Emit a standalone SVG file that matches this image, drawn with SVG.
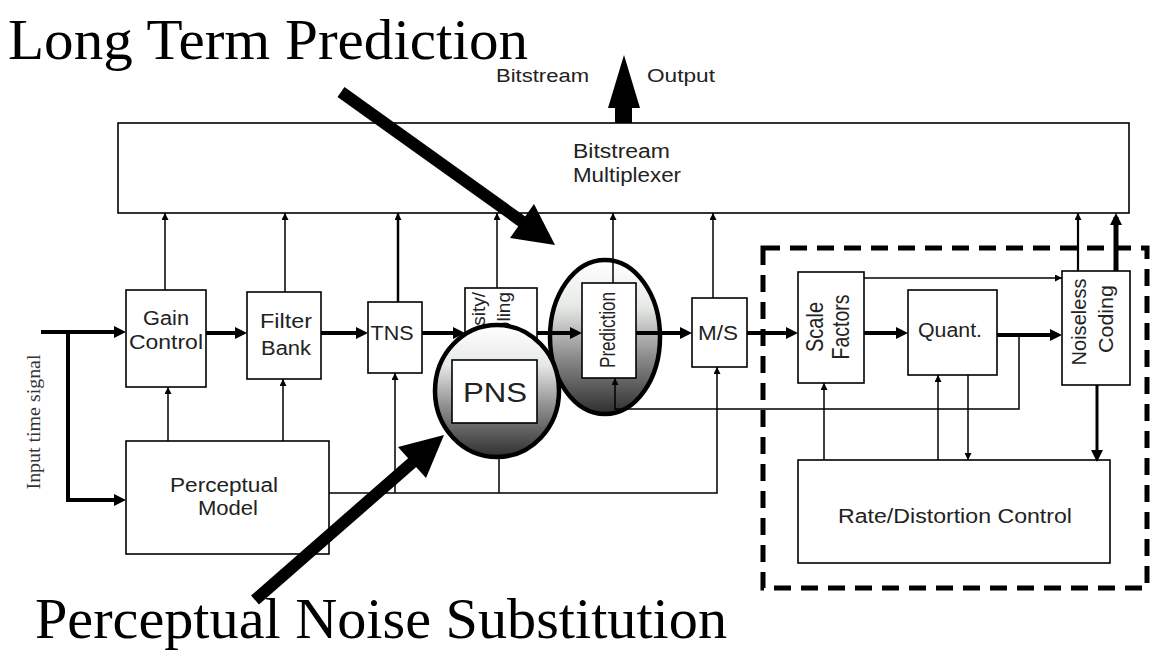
<svg xmlns="http://www.w3.org/2000/svg" width="1151" height="651" viewBox="0 0 1151 651">
<style>
.box{fill:#fff;stroke:#000;stroke-width:1.6}
.lbl{font-family:"Liberation Sans",Arial,sans-serif;font-size:20px;fill:#222}
.thin{stroke:#000;stroke-width:1.5;fill:none}
.thick{stroke:#000;stroke-width:4;fill:none}
.title{font-family:"Liberation Serif","Times New Roman",serif;font-size:58px;fill:#000}
.ell{stroke:#000;stroke-width:4.5;fill:url(#shade)}
.big{fill:#000}
</style>
<defs>
<marker id="ah" viewBox="0 0 7 7" refX="7" refY="3.5" markerUnits="userSpaceOnUse" markerWidth="7" markerHeight="7" orient="auto"><path d="M0,0 L7,3.5 L0,7 z" fill="#000"/></marker>
<marker id="ahb" viewBox="0 0 12 12" refX="8" refY="6" markerUnits="userSpaceOnUse" markerWidth="12" markerHeight="12" orient="auto"><path d="M0,0 L12,6 L0,12 z" fill="#000"/></marker>
<linearGradient id="shade" x1="0" y1="0" x2="0" y2="1">
<stop offset="0" stop-color="#ffffff"/>
<stop offset="0.3" stop-color="#e6eae6"/>
<stop offset="0.62" stop-color="#8e8e8e"/>
<stop offset="1" stop-color="#2e2e2e"/>
</linearGradient>
<clipPath id="intClip"><rect x="465" y="288" width="72" height="90"/></clipPath>
</defs>
<rect width="1151" height="651" fill="#fff"/>

<g id="titles">
<text class="title" x="8" y="59" textLength="520" lengthAdjust="spacingAndGlyphs">Long Term Prediction</text>
<text class="title" x="35" y="638" textLength="692" lengthAdjust="spacingAndGlyphs">Perceptual Noise Substitution</text>
</g>

<g id="output-label">
<text class="lbl" style="font-size:18px" x="496" y="82" textLength="93" lengthAdjust="spacingAndGlyphs">Bitstream</text>
<text class="lbl" style="font-size:18px" x="647" y="82" textLength="68" lengthAdjust="spacingAndGlyphs">Output</text>
<path class="big" d="M624,55 L640,108 L632,108 L632,123 L615,123 L615,108 L608,108 z"/>
</g>

<g id="rd-region">
<rect x="763" y="248" width="384" height="340" fill="none" stroke="#000" stroke-width="5" stroke-dasharray="17 10"/>
</g>

<g id="multiplexer">
<rect class="box" x="118" y="123" width="1011" height="90"/>
<text class="lbl" x="573" y="158" textLength="97" lengthAdjust="spacingAndGlyphs">Bitstream</text>
<text class="lbl" x="573" y="182" textLength="108" lengthAdjust="spacingAndGlyphs">Multiplexer</text>
</g>

<g id="input-label">
<text transform="translate(40,422) rotate(-90)" text-anchor="middle" style="font-family:'Liberation Serif','Times New Roman',serif;font-size:19px;fill:#333" textLength="135" lengthAdjust="spacingAndGlyphs">Input time signal</text>
</g>

<g id="gain-control">
<rect class="box" x="126" y="290" width="80" height="97"/>
<text class="lbl" x="166" y="325" text-anchor="middle" textLength="46" lengthAdjust="spacingAndGlyphs">Gain</text>
<text class="lbl" x="166" y="349" text-anchor="middle" textLength="74" lengthAdjust="spacingAndGlyphs">Control</text>
</g>

<g id="filter-bank">
<rect class="box" x="247" y="292" width="74" height="87"/>
<text class="lbl" x="286" y="328" text-anchor="middle" textLength="52" lengthAdjust="spacingAndGlyphs">Filter</text>
<text class="lbl" x="286" y="355" text-anchor="middle" textLength="50" lengthAdjust="spacingAndGlyphs">Bank</text>
</g>

<g id="tns">
<rect class="box" x="368" y="302" width="54" height="71"/>
<text class="lbl" x="392" y="340" text-anchor="middle" textLength="43" lengthAdjust="spacingAndGlyphs">TNS</text>
</g>

<g id="intensity-coupling">
<rect class="box" x="465" y="288" width="72" height="88"/>
<g clip-path="url(#intClip)">
<text class="lbl" style="font-size:19px" transform="translate(485,292) rotate(-90)" text-anchor="end">Intensity/</text>
<text class="lbl" style="font-size:19px" transform="translate(510,292) rotate(-90)" text-anchor="end">Coupling</text>
</g>
</g>

<g id="perceptual-model">
<rect class="box" x="126" y="441" width="203" height="113"/>
<text class="lbl" x="224" y="492" text-anchor="middle" textLength="108" lengthAdjust="spacingAndGlyphs">Perceptual</text>
<text class="lbl" x="228" y="515" text-anchor="middle" textLength="60" lengthAdjust="spacingAndGlyphs">Model</text>
</g>

<g id="prediction-shade">
<ellipse class="ell" cx="605" cy="337" rx="55" ry="77"/>
</g>

<g id="ms">
<rect class="box" x="692" y="298" width="55" height="69"/>
<text class="lbl" x="718" y="340" text-anchor="middle" textLength="40" lengthAdjust="spacingAndGlyphs">M/S</text>
</g>

<g id="scale-factors">
<rect class="box" x="798" y="272" width="66" height="111"/>
<text class="lbl" style="font-size:24px" transform="translate(823,327) rotate(-90)" text-anchor="middle" textLength="50" lengthAdjust="spacingAndGlyphs">Scale</text>
<text class="lbl" style="font-size:24px" transform="translate(849,327) rotate(-90)" text-anchor="middle" textLength="65" lengthAdjust="spacingAndGlyphs">Factors</text>
</g>

<g id="quant">
<rect class="box" x="908" y="290" width="89" height="85"/>
<text class="lbl" x="950" y="337" text-anchor="middle" textLength="64" lengthAdjust="spacingAndGlyphs">Quant.</text>
</g>

<g id="noiseless-coding">
<rect class="box" x="1062" y="271" width="68" height="114"/>
<text class="lbl" style="font-size:21px" transform="translate(1086,322) rotate(-90)" text-anchor="middle" textLength="87" lengthAdjust="spacingAndGlyphs">Noiseless</text>
<text class="lbl" style="font-size:21px" transform="translate(1113,319) rotate(-90)" text-anchor="middle" textLength="68" lengthAdjust="spacingAndGlyphs">Coding</text>
</g>

<g id="rate-distortion">
<rect class="box" x="798" y="460" width="312" height="103"/>
<text class="lbl" x="955" y="523" text-anchor="middle" textLength="234" lengthAdjust="spacingAndGlyphs">Rate/Distortion Control</text>
</g>

<g id="connectors">
<path class="thick" d="M41,332 H122" marker-end="url(#ahb)"/>
<path class="thick" d="M68,332 V500 H122" marker-end="url(#ahb)"/>
<path class="thick" d="M206,333 H243" marker-end="url(#ahb)"/>
<path class="thick" d="M321,333 H364" marker-end="url(#ahb)"/>
<path class="thick" d="M422,333 H461" marker-end="url(#ahb)"/>
<path class="thick" d="M537,333 H578" marker-end="url(#ahb)"/>
<path class="thick" d="M636,333 H688" marker-end="url(#ahb)"/>
<path class="thick" d="M747,333 H794" marker-end="url(#ahb)"/>
<path class="thick" d="M864,333 H904" marker-end="url(#ahb)"/>
<path class="thick" d="M997,335 H1058" marker-end="url(#ahb)"/>
<path class="thick" style="stroke-width:3" d="M1097,385 V458" marker-end="url(#ahb)"/>
<path class="thick" style="stroke-width:5" d="M1116,271 V217" marker-end="url(#ahb)"/>

<path class="thin" d="M165,290 V213" marker-end="url(#ah)"/>
<path class="thin" d="M285,292 V213" marker-end="url(#ah)"/>
<path class="thin" style="stroke-width:2.5" d="M398,302 V213" marker-end="url(#ah)"/>
<path class="thin" d="M497,288 V213" marker-end="url(#ah)"/>
<path class="thin" d="M613,283 V213" marker-end="url(#ah)"/>
<path class="thin" d="M713,298 V213" marker-end="url(#ah)"/>
<path class="thin" style="stroke-width:2.2" d="M1078,271 V213" marker-end="url(#ah)"/>

<path class="thin" d="M168,441 V387" marker-end="url(#ah)"/>
<path class="thin" d="M283,441 V379" marker-end="url(#ah)"/>
<path class="thin" d="M329,493 H717 V367" marker-end="url(#ah)"/>
<path class="thin" d="M395,493 V373" marker-end="url(#ah)"/>
<path class="thin" d="M499,457 V493"/>
<path class="thin" d="M1019,335 V409 H615 V378" marker-end="url(#ah)"/>
<path class="thin" d="M864,278 H1062" marker-end="url(#ah)"/>
<path class="thin" d="M824,460 V383" marker-end="url(#ah)"/>
<path class="thin" d="M938,460 V375" marker-end="url(#ah)"/>
<path class="thin" d="M968,375 V460" marker-end="url(#ah)"/>
</g>

<g id="prediction">
<rect class="box" x="582" y="283" width="54" height="95"/>
<text class="lbl" style="font-size:22px" transform="translate(615,330) rotate(-90)" text-anchor="middle" textLength="76" lengthAdjust="spacingAndGlyphs">Prediction</text>
</g>

<g id="pns">
<ellipse class="ell" cx="497" cy="391" rx="62" ry="66"/>
<rect class="box" x="452" y="360" width="85" height="63"/>
<text class="lbl" style="font-size:28px" x="495" y="402" text-anchor="middle" textLength="64" lengthAdjust="spacingAndGlyphs">PNS</text>
</g>

<g id="pointer-arrows">
<line x1="341" y1="92" x2="524" y2="223" stroke="#000" stroke-width="12"/>
<polygon class="big" points="555,245 534,204 510,238"/>
<line x1="255" y1="600" x2="414" y2="461" stroke="#000" stroke-width="12"/>
<polygon class="big" points="444,435 426,478 398,447"/>
</g>
</svg>
